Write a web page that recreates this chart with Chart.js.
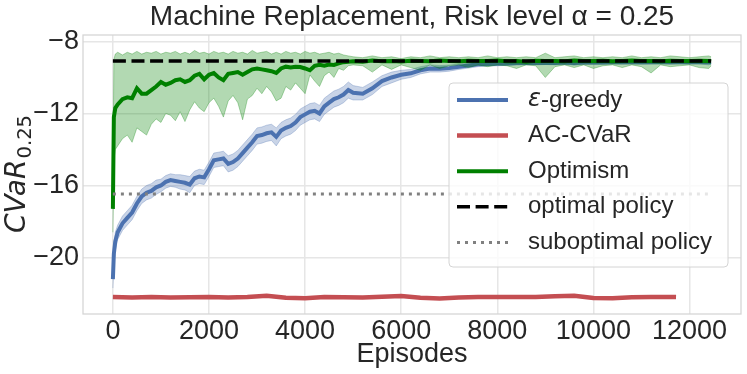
<!DOCTYPE html>
<html>
<head>
<meta charset="utf-8">
<script src="https://cdn.jsdelivr.net/npm/chart.js@4.4.1/dist/chart.umd.min.js"></script>
<style>
  html, body { margin: 0; padding: 0; background: #fff; }
  #wrap { width: 747px; height: 374px; }
</style>
</head>
<body>
<div id="wrap"><canvas id="cvarChart" width="747" height="374"></canvas></div>
<script>
// ---- data ----
const episodes = [0, 20, 50,
  100, 200, 300, 400, 500, 600, 700, 800, 900, 1000,
  1100, 1200, 1300, 1400, 1500, 1600, 1700, 1800, 1900, 2000,
  2100, 2200, 2300, 2400, 2500, 2600, 2700, 2800, 2900, 3000,
  3100, 3200, 3300, 3400, 3500, 3600, 3700, 3800, 3900, 4000,
  4100, 4200, 4300, 4400, 4500, 4600, 4700, 4800, 4900, 5000,
  5200, 5400, 5600, 5800, 6000, 6200, 6400, 6600, 6800, 7000,
  7200, 7400, 7600, 7800, 8000, 8200, 8400, 8600, 8800, 9000,
  9200, 9400, 9600, 9800, 10000, 10200, 10400, 10600, 10800, 11000,
  11200, 11400, 11600, 11800, 12000, 12200, 12400, 12450];

const greedyMean = [-21.2, -19.8, -19.1,
  -18.6, -18.1, -17.8, -17.5, -17.0, -16.6, -16.4, -16.3, -16.1, -16.0,
  -15.8, -15.7, -15.75, -15.8, -15.85, -15.95, -15.6, -15.5, -15.55, -15.1,
  -14.6, -14.55, -14.5, -14.8, -14.7, -14.5, -14.2, -13.9, -13.6, -13.25,
  -13.2, -13.1, -13.05, -13.3, -12.95, -12.8, -12.7, -12.5, -12.2, -12.05,
  -11.9, -11.85, -12.0, -11.6, -11.4, -11.2, -11.1, -10.95, -10.7, -10.85,
  -10.9, -10.6, -10.2, -10.0, -9.85, -9.77, -9.6, -9.5, -9.52, -9.48,
  -9.4, -9.33, -9.27, -9.25, -9.24, -9.22, -9.2, -9.2, -9.19, -9.18,
  -9.19, -9.17, -9.2, -9.17, -9.16, -9.17, -9.15, -9.16, -9.15, -9.16,
  -9.15, -9.14, -9.15, -9.14, -9.15, -9.14, -9.16, -9.15];
const greedyLow = [-21.7, -20.4, -19.6,
  -19.0, -18.5, -18.2, -17.9, -17.4, -17.0, -16.8, -16.7, -16.5, -16.35,
  -16.15, -16.05, -16.1, -16.2, -16.25, -16.4, -16.0, -15.9, -15.95, -15.5,
  -15.0, -14.95, -14.9, -15.25, -15.15, -14.95, -14.65, -14.35, -14.05, -13.7,
  -13.65, -13.55, -13.5, -13.8, -13.4, -13.25, -13.15, -12.95, -12.65, -12.5,
  -12.35, -12.3, -12.45, -12.05, -11.85, -11.65, -11.55, -11.4, -11.15, -11.25,
  -11.25, -10.95, -10.5, -10.3, -10.1, -10.0, -9.8, -9.7, -9.7, -9.65,
  -9.55, -9.48, -9.4, -9.37, -9.35, -9.33, -9.31, -9.3, -9.3, -9.28,
  -9.3, -9.27, -9.32, -9.27, -9.26, -9.27, -9.25, -9.26, -9.25, -9.27,
  -9.25, -9.24, -9.26, -9.24, -9.25, -9.24, -9.3, -9.25];
const greedyHigh = [-20.7, -19.2, -18.6,
  -18.2, -17.7, -17.4, -17.1, -16.6, -16.2, -16.0, -15.9, -15.7, -15.65,
  -15.45, -15.35, -15.4, -15.4, -15.45, -15.5, -15.2, -15.1, -15.15, -14.7,
  -14.2, -14.15, -14.1, -14.35, -14.25, -14.05, -13.75, -13.45, -13.15, -12.8,
  -12.75, -12.65, -12.6, -12.8, -12.5, -12.35, -12.25, -12.05, -11.75, -11.6,
  -11.45, -11.4, -11.55, -11.15, -10.95, -10.75, -10.65, -10.5, -10.25, -10.45,
  -10.55, -10.25, -9.9, -9.7, -9.6, -9.55, -9.4, -9.3, -9.34, -9.31,
  -9.25, -9.18, -9.14, -9.13, -9.12, -9.11, -9.09, -9.1, -9.08, -9.08,
  -9.08, -9.07, -9.09, -9.07, -9.06, -9.07, -9.05, -9.06, -9.05, -9.06,
  -9.05, -9.04, -9.05, -9.04, -9.05, -9.04, -9.03, -9.05];

const optimismMean = [-17.3, -12.2, -11.7,
  -11.5, -11.2, -11.1, -11.15, -10.6, -10.9, -10.9, -10.7, -10.5, -10.25,
  -10.4, -10.3, -10.15, -10.1, -10.25, -10.15, -9.9, -9.8, -10.1, -9.85,
  -9.75, -10.0, -10.15, -9.8, -9.75, -9.7, -9.85, -9.7, -9.55, -9.5,
  -9.55, -9.6, -9.65, -9.75, -9.5, -9.4, -9.45, -9.4, -9.42, -9.5,
  -9.6, -9.35, -9.3, -9.35, -9.28, -9.3, -9.22, -9.15, -9.12, -9.1,
  -9.12, -9.06, -9.1, -9.08, -9.11, -9.07, -9.09, -9.1, -9.06, -9.08,
  -9.1, -9.07, -9.09, -9.08, -9.06, -9.1, -9.08, -9.12, -9.07, -9.09,
  -9.08, -9.1, -9.06, -9.09, -9.08, -9.07, -9.1, -9.08, -9.06, -9.09,
  -9.08, -9.1, -9.07, -9.08, -9.09, -9.07, -9.08, -9.1];
const optimismLow = [-18.6, -14.6, -14.0,
  -13.8, -13.4, -13.2, -13.6, -12.8, -13.0, -13.2, -12.6, -12.3, -12.5,
  -12.0, -12.1, -12.4, -11.9, -12.45, -11.8, -11.35, -11.7, -11.9, -11.4,
  -11.15, -11.6, -12.2, -11.3, -11.0, -11.4, -12.35, -11.2, -11.0, -10.6,
  -10.9, -10.5, -10.8, -11.3, -11.15, -10.5, -10.7, -10.3, -10.6, -10.9,
  -9.86, -10.2, -10.5, -9.9, -9.7, -10.0, -9.5, -9.6, -9.35, -9.3,
  -9.35, -9.7, -9.3, -9.55, -9.3, -9.45, -9.6, -9.3, -9.5, -9.35,
  -9.3, -9.45, -9.3, -9.4, -9.3, -9.35, -9.5, -9.3, -9.35, -10.0,
  -9.4, -9.3, -9.45, -9.3, -9.5, -9.35, -9.3, -9.45, -9.3, -9.4,
  -9.75, -9.3, -9.4, -9.35, -9.3, -9.45, -9.5, -9.35];
const optimismHigh = [-16.5, -9.0, -8.7,
  -8.6, -8.75, -8.6, -8.7, -8.55, -8.7, -8.6, -8.65, -8.55, -8.7,
  -8.6, -8.65, -8.55, -8.7, -8.6, -8.7, -8.5, -8.65, -8.6, -8.7,
  -8.55, -8.65, -8.6, -8.7, -8.55, -8.65, -8.6, -8.7, -8.5, -8.65,
  -8.6, -8.55, -8.7, -8.6, -8.7, -8.55, -8.65, -8.6, -8.7, -8.55,
  -8.65, -8.6, -8.7, -8.65, -8.6, -8.7, -8.65, -8.75, -8.8, -8.85,
  -8.9, -8.8, -8.9, -8.85, -8.95, -8.85, -8.9, -8.8, -8.9, -8.85,
  -8.9, -8.85, -8.9, -8.8, -8.9, -8.85, -8.9, -8.85, -8.9, -8.65,
  -8.9, -8.85, -8.8, -8.9, -8.85, -8.9, -8.85, -8.9, -8.8, -8.9,
  -8.85, -8.9, -8.8, -8.85, -8.9, -8.85, -8.8, -8.85];

const acEpisodes = [0, 400, 800, 1200, 1600, 2000, 2400, 2800, 3200, 3600,
  4000, 4400, 4800, 5200, 5600, 6000, 6400, 6800, 7200, 7600,
  8000, 8400, 8800, 9200, 9600, 10000, 10400, 10800, 11200, 11600, 11720];
const acCvarMean = [-22.2, -22.22, -22.2, -22.23, -22.21, -22.2, -22.22, -22.19, -22.12, -22.24,
  -22.26, -22.2, -22.21, -22.22, -22.18, -22.14, -22.24, -22.28, -22.22, -22.2,
  -22.2, -22.19, -22.2, -22.16, -22.13, -22.25, -22.27, -22.21, -22.2, -22.19, -22.2];

const refEpisodes = [0, 12450];
const optimalValue = [-9.08, -9.08];
const suboptimalValue = [-16.47, -16.47];

const xTicks = [0, 2000, 4000, 6000, 8000, 10000, 12000];
const yTicks = [-20, -16, -12, -8];

// ---- helpers ----
const FONT = '"Liberation Sans", Arial, sans-serif';
const TEXT = '#262626';
const pts = (xs, ys) => xs.map((x, i) => ({ x: x, y: ys[i] }));

function band(xs, ys, fillColor, order) {
    return {
        data: pts(xs, ys),
        borderColor: fillColor,
        borderWidth: 1,
        backgroundColor: fillColor,
        pointRadius: 0,
        fill: false,
        order: order
    };
}

const datasets = [
    band(episodes, greedyLow, 'rgba(76,114,176,0.3)', 10),
    Object.assign(band(episodes, greedyHigh, 'rgba(76,114,176,0.3)', 10), { fill: '-1' }),
    {
        label: 'ε-greedy', legend: true,
        data: pts(episodes, greedyMean),
        borderColor: '#4C72B0', borderWidth: 4, pointRadius: 0, order: 9
    },
    {
        label: 'AC-CVaR', legend: true,
        data: pts(acEpisodes, acCvarMean),
        borderColor: '#C44E52', borderWidth: 4.5, pointRadius: 0, order: 7
    },
    band(episodes, optimismLow, 'rgba(0,128,0,0.3)', 6),
    Object.assign(band(episodes, optimismHigh, 'rgba(0,128,0,0.3)', 6), { fill: '-1' }),
    {
        label: 'Optimism', legend: true,
        data: pts(episodes, optimismMean),
        borderColor: '#008000', borderWidth: 4, pointRadius: 0, order: 5
    },
    {
        label: 'optimal policy', legend: true,
        data: pts(refEpisodes, optimalValue),
        borderColor: '#000000', borderWidth: 3.5, borderDash: [13, 5.6], pointRadius: 0, order: 2
    },
    {
        label: 'suboptimal policy', legend: true,
        data: pts(refEpisodes, suboptimalValue),
        borderColor: '#808080', borderWidth: 3, borderDash: [3, 5], pointRadius: 0, order: 1
    }
];

// frame, legend box and the y label with its subscript
const decorations = {
    id: 'decorations',
    afterDatasetsDraw(chart) {
        const { ctx, chartArea: a } = chart;
        ctx.save();
        ctx.strokeStyle = '#d4d4d4';
        ctx.lineWidth = 1.25;
        ctx.strokeRect(a.left, a.top, a.right - a.left, a.bottom - a.top);

        // legend
        const bx = a.right - 292, by = a.top + 48, bw = 279, bh = 184;
        ctx.beginPath();
        ctx.roundRect(bx, by, bw, bh, 4);
        ctx.fillStyle = 'rgba(255,255,255,0.8)';
        ctx.fill();
        ctx.strokeStyle = '#d4d4d4';
        ctx.lineWidth = 1;
        ctx.stroke();

        const items = chart.data.datasets.filter(d => d.legend);
        items.forEach((d, i) => {
            const y = by + 17 + i * 35.6;
            ctx.beginPath();
            ctx.setLineDash(d.borderDash || []);
            ctx.strokeStyle = d.borderColor;
            ctx.lineWidth = d.borderWidth;
            ctx.moveTo(bx + 8, y);
            ctx.lineTo(bx + 59, y);
            ctx.stroke();
            ctx.setLineDash([]);

            ctx.fillStyle = TEXT;
            ctx.textBaseline = 'middle';
            ctx.textAlign = 'left';
            let tx = bx + 79;
            let label = d.label;
            if (label.startsWith('ε')) {
                ctx.font = 'italic 24px "DejaVu Sans"';
                ctx.fillText('ε', tx, y);
                tx += ctx.measureText('ε').width;
                label = label.slice(1);
            }
            ctx.font = '24px ' + FONT;
            ctx.fillText(label, tx, y);
        });
        ctx.restore();
    },
    afterDraw(chart) {
        const { ctx, chartArea: a } = chart;
        ctx.save();
        ctx.fillStyle = TEXT;
        ctx.textBaseline = 'alphabetic';
        ctx.textAlign = 'left';
        ctx.font = 'italic 28px "DejaVu Sans"';
        const w1 = ctx.measureText('CVaR').width;
        ctx.font = '19.6px "DejaVu Sans"';
        const w2 = ctx.measureText('0.25').width;
        const cy = (a.top + a.bottom) / 2;
        ctx.translate(25, cy + (w1 + w2) / 2);
        ctx.rotate(-Math.PI / 2);
        ctx.font = 'italic 28px "DejaVu Sans"';
        ctx.fillText('CVaR', 0, 0);
        ctx.font = '19.6px "DejaVu Sans"';
        ctx.fillText('0.25', w1 + 1, 6);
        ctx.restore();
    }
};

function zeroPad(scale) {
    scale.paddingTop = 0;
    scale.paddingBottom = 0;
    scale.paddingLeft = 0;
    scale.paddingRight = 0;
}

new Chart(document.getElementById('cvarChart'), {
    type: 'line',
    data: { datasets: datasets },
    options: {
        responsive: false,
        animation: false,
        layout: { padding: { top: 0, right: 6, bottom: 0, left: 0 } },
        elements: { line: { tension: 0 } },
        plugins: {
            legend: { display: false },
            tooltip: { enabled: false },
            title: {
                display: true,
                fullSize: false,
                text: 'Machine Replacement, Risk level α = 0.25',
                color: TEXT,
                font: { family: FONT, size: 28, weight: 'normal', lineHeight: 1.2 },
                padding: { top: 0, bottom: 1.4 }
            }
        },
        scales: {
            x: {
                type: 'linear',
                min: -622,
                max: 13072,
                afterBuildTicks: s => { s.ticks = xTicks.map(v => ({ value: v })); },
                afterFit: s => { s.height = 60; zeroPad(s); },
                grid: { color: '#e6e6e6', lineWidth: 1.5, drawTicks: false },
                border: { display: false },
                ticks: {
                    color: TEXT, padding: 1,
                    font: { family: FONT, size: 27 },
                    maxRotation: 0,
                    callback: v => String(v)
                },
                title: {
                    display: true, text: 'Episodes', color: TEXT,
                    font: { family: FONT, size: 27, lineHeight: 1.2 },
                    padding: { top: 0, bottom: 3 }
                }
            },
            y: {
                type: 'linear',
                min: -23.14,
                max: -7.64,
                afterBuildTicks: s => { s.ticks = yTicks.map(v => ({ value: v })); },
                afterFit: s => { s.width = 83; zeroPad(s); },
                grid: { color: '#e6e6e6', lineWidth: 1.5, drawTicks: false },
                border: { display: false },
                ticks: {
                    color: TEXT, padding: 4,
                    font: { family: FONT, size: 27 },
                    callback: v => String(v).replace('-', '\u2212')
                }
            }
        }
    },
    plugins: [decorations]
});
</script>
</body>
</html>
